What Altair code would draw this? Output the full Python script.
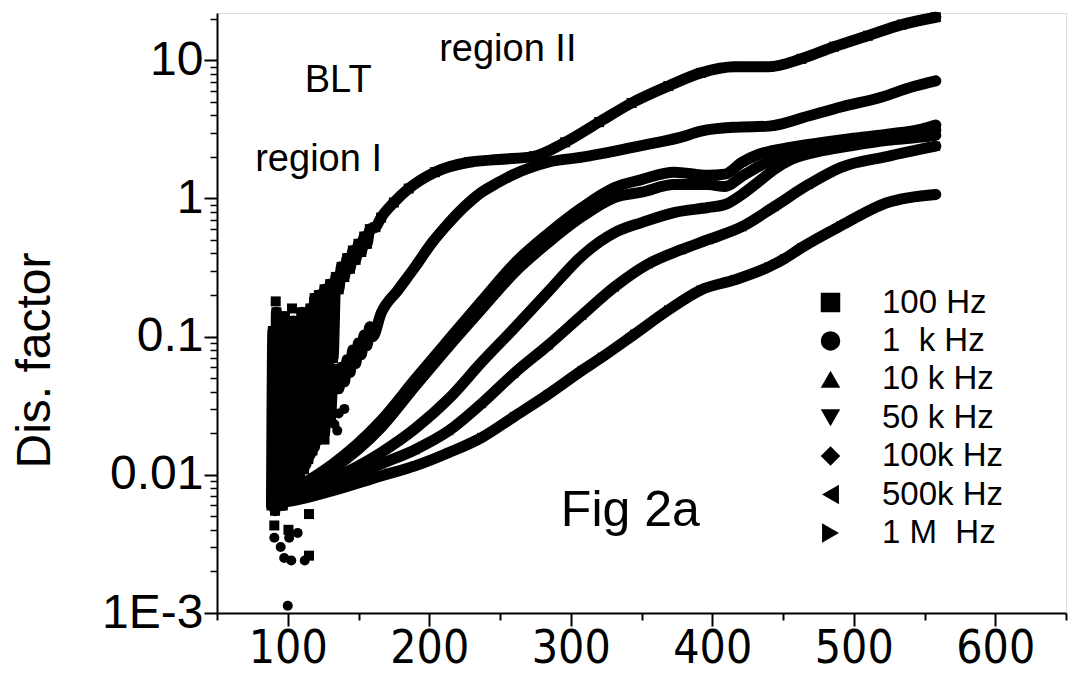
import altair as alt
import pandas as pd

# ---------------- data ----------------
series_names = ["100 Hz", "1\u00a0\u00a0k Hz", "10 k Hz", "50 k Hz", "100k Hz", "500k Hz", "\u00a01 M\u00a0\u00a0Hz"]
series_shapes = ["square", "circle", "triangle-up", "triangle-down", "diamond", "triangle-left", "triangle-right"]

# 100 Hz (noisy at low temperature, then smooth)
A_T = [88.5, 89.5, 91, 92, 93.5, 95, 96.5, 98, 99.5, 101, 102.5, 104, 105.5, 107, 108.5, 110,
       111.5, 113, 114.5, 116, 117.5, 119, 120.5, 122, 124, 126, 128, 130, 132, 134, 136, 138,
       140, 142, 144, 146, 148, 150, 152, 154, 156, 158, 162, 166, 175, 185.5, 204,
       228, 251, 274, 296, 320, 343, 369, 392, 416, 440, 463, 486, 510, 534, 558]
A_y = [0.006, 0.11, 0.0055, 0.15, 0.007, 0.12, 0.006, 0.14, 0.008, 0.10, 0.007, 0.13, 0.009, 0.12,
       0.010, 0.15, 0.011, 0.13, 0.013, 0.16, 0.015, 0.19, 0.020, 0.20, 0.030, 0.22, 0.045, 0.24,
       0.070, 0.27, 0.22, 0.32, 0.27, 0.37, 0.31, 0.42, 0.36, 0.47, 0.41, 0.53, 0.47, 0.60, 0.62,
       0.728, 0.935, 1.18, 1.55, 1.83, 1.92, 2.02, 2.55, 3.57, 4.91, 6.52, 8.11, 8.97, 8.97, 10.25,
       12.54, 15.07, 18.13, 20.5]

# 1 kHz
B_T = [95, 96.5, 98, 99.5, 101, 102.5, 104, 105.5, 107, 108.5, 110, 111.5, 113, 114.5, 116, 117.5,
       119, 120.5, 122, 124, 126, 128, 130, 132, 134, 136, 138, 140, 142, 144, 146, 148, 150, 152,
       154, 156, 158, 160, 166, 178, 190, 202, 214, 225, 237, 249,
       260, 272, 284, 308, 331, 355, 378, 392, 416, 440, 468, 491, 520, 541, 558]
B_y = [0.007, 0.05, 0.008, 0.06, 0.009, 0.07, 0.009, 0.08, 0.010, 0.09, 0.011, 0.10, 0.012, 0.10,
       0.014, 0.11, 0.016, 0.10, 0.018, 0.09, 0.020, 0.07, 0.025, 0.05, 0.058, 0.042, 0.060, 0.047,
       0.068, 0.055, 0.080, 0.064, 0.090, 0.074, 0.103, 0.086, 0.118, 0.100, 0.148, 0.218,
       0.320, 0.479, 0.669, 0.875, 1.11, 1.31, 1.50, 1.68, 1.83, 1.99, 2.20, 2.47, 2.78, 3.07, 3.28,
       3.34, 3.95, 4.59, 5.43, 6.41, 7.10]

# 10 kHz
C_T = [91, 103, 131, 166, 190, 214, 237, 260, 284, 308, 331, 350, 373, 397, 409, 421, 433, 456,
       479, 500, 524, 548, 558]
C_y = [0.0075, 0.0080, 0.0118, 0.0247, 0.0491, 0.0959, 0.181, 0.337, 0.556, 0.860, 1.20, 1.37,
       1.55, 1.47, 1.50, 1.83, 2.09, 2.35, 2.55, 2.73, 2.92, 3.18, 3.40]

# 50 kHz
D_T = [91, 103, 131, 166, 190, 214, 237, 260, 284, 308, 331, 350, 373, 397, 409, 421, 433, 449,
       456, 479, 500, 524, 548, 558]
D_y = [0.0072, 0.00765, 0.0109, 0.0220, 0.0437, 0.0853, 0.158, 0.290, 0.479, 0.740, 1.016, 1.11,
       1.26, 1.26, 1.22, 1.45, 1.71, 2.02, 2.16, 2.39, 2.55, 2.78, 3.02, 3.12]

# 100 kHz
E_T = [91, 103, 131, 166, 190, 214, 237, 260, 284, 308, 331, 350, 373, 397, 409, 421, 433, 444,
       456, 479, 500, 524, 548, 558]
E_y = [0.0070, 0.0074, 0.00935, 0.0145, 0.0216, 0.0357, 0.0652, 0.115, 0.211, 0.385, 0.566, 0.669,
       0.791, 0.860, 0.904, 1.07, 1.33, 1.63, 1.92, 2.23, 2.43, 2.64, 2.78, 2.87]

# 500 kHz
F_T = [91, 103, 131, 166, 190, 214, 237, 260, 284, 308, 331, 355, 378, 397, 421, 444, 468, 491,
       524, 558]
F_y = [0.0066, 0.00703, 0.00846, 0.0120, 0.0152, 0.0209, 0.0328, 0.0543, 0.0867, 0.143, 0.229,
       0.337, 0.426, 0.503, 0.625, 0.875, 1.26, 1.68, 2.02, 2.39]

# 1 MHz
G_T = [91, 103, 131, 166, 190, 214, 237, 260, 284, 308, 322, 345, 369, 392, 416, 440, 451, 463,
       491, 524, 558]
G_y = [0.0062, 0.00647, 0.00765, 0.00983, 0.0116, 0.0145, 0.0186, 0.0264, 0.0382, 0.0570, 0.0709,
       0.104, 0.156, 0.218, 0.258, 0.320, 0.366, 0.440, 0.636, 0.935, 1.07]

# scattered outliers of the two lowest frequencies
sq_T = [91.5, 96, 90.5, 100.5, 115, 115, 126, 103]
sq_y = [0.18, 0.13, 0.0043, 0.0040, 0.0052, 0.0026, 0.018, 0.16]
ci_T = [100, 90.5, 95, 97.5, 102.5, 107, 101, 112, 140, 136, 133, 135]
ci_y = [0.00113, 0.0035, 0.0030, 0.0025, 0.0024, 0.0038, 0.0035, 0.0024, 0.030, 0.0278, 0.0232, 0.0209]

x_ticks = [100, 200, 300, 400, 500, 600]
x_minor = [50, 150, 250, 350, 450, 550, 650]
y_ticks = [0.001, 0.01, 0.1, 1, 10]
y_tick_labels = ["1E-3", "0.01", "0.1", "1", "10"]
y_minor = [k * 10.0 ** d for d in range(-3, 2) for k in range(2, 10) if k * 10.0 ** d < 22]

ann_text = ["region II", "BLT", "region I"]
ann_T = [207, 112, 77]
ann_y = [9.9, 5.9, 1.57]
fig_text = ["Fig 2a"]
fig_T = [293]
fig_y = [0.00426]

# ---------------- tables ----------------
all_T = [A_T, B_T, C_T, D_T, E_T, F_T, G_T]
all_y = [A_y, B_y, C_y, D_y, E_y, F_y, G_y]
rows = []
for name, Ts, Ys in zip(series_names, all_T, all_y):
    for i, (t, v) in enumerate(zip(Ts, Ys)):
        rows.append({"T": t, "D": v, "series": name, "idx": i})
lines_df = pd.DataFrame(rows)

pts = list(rows)
for t, v in zip(sq_T, sq_y):
    pts.append({"T": t, "D": v, "series": series_names[0], "idx": 0})
for t, v in zip(ci_T, ci_y):
    pts.append({"T": t, "D": v, "series": series_names[1], "idx": 0})
pts_df = pd.DataFrame(pts)

ann_df = pd.DataFrame({"text": ann_text, "T": ann_T, "D": ann_y})
fig_df = pd.DataFrame({"text": fig_text, "T": fig_T, "D": fig_y})

# ---------------- scales / axes ----------------
xs = alt.Scale(domain=[50, 650], nice=False, zero=False)
ys = alt.Scale(type="log", domain=[0.001, 22], nice=False)

label_expr = "".join(
    [f"abs(log(datum.value) - log({v!r})) < 0.01 ? '{l}' : " for v, l in zip(y_ticks, y_tick_labels)]
) + "''"

narrow = "'Liberation Sans Narrow', 'DejaVu Sans Condensed', 'Liberation Sans', sans-serif"

x_major = alt.Axis(values=x_ticks, tickSize=13, tickWidth=2, tickColor="black", domainColor="black",
                   domainWidth=2, labelFont=narrow, labelFontSize=46, labelColor="black",
                   labelPadding=0, grid=False, title=None, orient="bottom", labelFlush=False)
y_major = alt.Axis(values=y_ticks, tickSize=13, tickWidth=2, tickColor="black", domainColor="black",
                   domainWidth=2, labelFont="Liberation Sans", labelFontSize=48, labelColor="black",
                   labelPadding=1, grid=False, orient="left", labelExpr=label_expr, labelFlush=False,
                   title="Dis. factor", titleFont="Liberation Sans", titleFontSize=48,
                   titleFontWeight="normal", titleColor="black", titleX=-182, titleY=347,
                   titleAlign="center", titleBaseline="middle", titleAngle=270)
x_min_ax = alt.Axis(values=x_minor, tickSize=7, tickWidth=2, tickColor="black", domain=False,
                    labels=False, grid=False, title=None, orient="bottom")
y_min_ax = alt.Axis(values=y_minor, tickSize=7, tickWidth=1.5, tickColor="black", domain=False,
                    labels=False, grid=False, title=None, orient="left")

lines = alt.Chart(lines_df).mark_line(
    color="black", strokeWidth=11, strokeCap="round", strokeJoin="round", interpolate="monotone"
).encode(
    x=alt.X("T:Q", scale=xs, axis=x_major),
    y=alt.Y("D:Q", scale=ys, axis=y_major),
    detail="series:N",
    order="idx:Q",
)

points = alt.Chart(pts_df).mark_point(filled=True, size=100, color="black", opacity=1).encode(
    x=alt.X("T:Q", scale=xs, axis=None),
    y=alt.Y("D:Q", scale=ys, axis=None),
    shape=alt.Shape("series:N", scale=alt.Scale(domain=series_names, range=series_shapes),
                    sort=series_names,
                    legend=alt.Legend(title=None, orient="none", legendX=597, legendY=273,
                                      labelFont="Liberation Sans", labelFontSize=33,
                                      labelColor="black", symbolSize=380, symbolFillColor="black",
                                      symbolStrokeWidth=0, labelOffset=35, rowPadding=4.4,
                                      padding=0, symbolOpacity=1)),
)

minor = alt.Chart(lines_df).mark_point(opacity=0).encode(
    x=alt.X("T:Q", scale=xs, axis=x_min_ax),
    y=alt.Y("D:Q", scale=ys, axis=y_min_ax),
)

ann = alt.Chart(ann_df).mark_text(align="left", baseline="alphabetic", fontSize=38,
                                  font="Liberation Sans", color="black").encode(
    x=alt.X("T:Q", scale=xs, axis=None),
    y=alt.Y("D:Q", scale=ys, axis=None),
    text="text:N",
)
fig = alt.Chart(fig_df).mark_text(align="left", baseline="alphabetic", fontSize=50,
                                  font="Liberation Sans", color="black").encode(
    x=alt.X("T:Q", scale=xs, axis=None),
    y=alt.Y("D:Q", scale=ys, axis=None),
    text="text:N",
)

chart = alt.layer(minor, lines, points, ann, fig).resolve_axis(
    x="independent", y="independent"
).properties(
    width=849, height=600,
    autosize=alt.AutoSizeParams(type="none"),
    padding={"left": 217, "top": 13, "right": 3, "bottom": 60},
    background="white",
).configure_view(stroke="#808080", strokeWidth=2).configure(font="Liberation Sans")

chart.save("out.html", embed_options={"renderer": "svg", "actions": False})
